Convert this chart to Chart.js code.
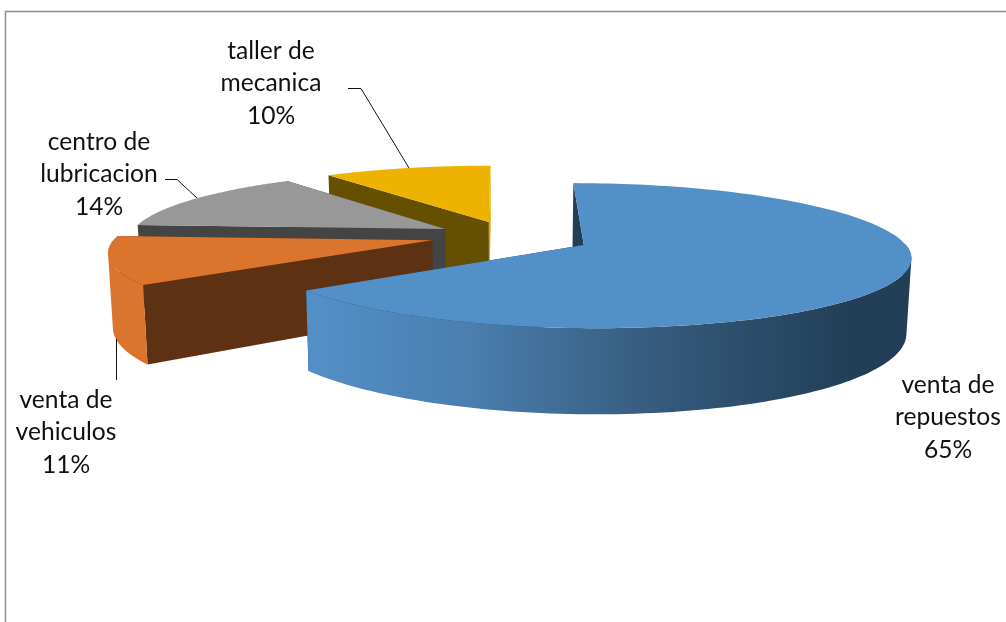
<!DOCTYPE html>
<html>
<head>
<meta charset="utf-8">
<title>Ingresos por area</title>
<script src="https://cdn.jsdelivr.net/npm/chart.js@4/dist/chart.umd.min.js"></script>
<style>
  html, body { margin: 0; padding: 0; background: #fff; overflow: hidden; }
  canvas { display: block; }
</style>
</head>
<body>
<canvas id="pie_chart" width="1006" height="622"></canvas>
<script>
var categories = ['venta de repuestos', 'venta de vehiculos', 'centro de lubricacion', 'taller de mecanica'];
var percents = [65, 11, 14, 10];

var topColors = ['#5490C8', '#DB742C', '#989898', '#EEB200'];
var startWallColors = ['#223F57', '#5F3113', '#444444', '#655000'];
var endWallColors = ['#223F57', '#5F3113', '#444444', '#DDA800'];

// floor perspective used to lay the pie arcs down
var view = { horizon: -234, height: 470, falloff: 0.00046, depth: 72, taper: 0.00017 };

// sideways nudge of the pulled out slices, on top of the arc offset
var sliceNudge = [0, -2, 0, 7];

// label centres and leader lines, same order as categories
var labelSpots = [[948, 385], [66, 400], [99, 142], [271, 51]];
var leaders = [
    null,
    [[116.5, 339], [116.5, 380]],
    [[165, 179.5], [177, 179.5], [197, 198]],
    [[348, 88.5], [361, 88.5], [409, 168]]
];

function project(cx, x, away, drop) {
    var f = 1 / (1 + view.falloff * away);
    return [cx + x * f * (1 - view.taper * drop), view.horizon + (view.height + drop) * f];
}

function slicePoint(arc, angle, radius, drop, index) {
    var mid = (arc.startAngle + arc.endAngle) / 2;
    var off = arc.options.offset;
    var x = Math.cos(angle) * radius + Math.cos(mid) * off + sliceNudge[index];
    var away = -(Math.sin(angle) * radius + Math.sin(mid) * off);
    return project(arc.x, x, away, drop);
}

function tracePath(ctx, pts) {
    pts.forEach(function (p, i) {
        if (i === 0) ctx.moveTo(p[0], p[1]);
        else ctx.lineTo(p[0], p[1]);
    });
    ctx.closePath();
}

function fillPath(ctx, pts, style) {
    ctx.beginPath();
    tracePath(ctx, pts);
    ctx.fillStyle = style;
    ctx.fill();
}

function cutWall(ctx, arc, angle, style, index) {
    var r = arc.outerRadius;
    fillPath(ctx, [
        slicePoint(arc, angle, 0, 0, index),
        slicePoint(arc, angle, r, 0, index),
        slicePoint(arc, angle, r, view.depth, index),
        slicePoint(arc, angle, 0, view.depth, index)
    ], style);
}

function rimStyle(ctx, index) {
    if (index === 0) {
        var g = ctx.createLinearGradient(304, 0, 850, 0);
        g.addColorStop(0, '#5490C8');
        g.addColorStop(0.3, '#4A7FAF');
        g.addColorStop(0.65, '#355A7C');
        g.addColorStop(1, '#223F57');
        return g;
    }
    return topColors[index];
}

// the rim is built from quads with one winding so the fold at its tip stays filled
function addRimQuad(ctx, arc, a0, a1, index) {
    var r = arc.outerRadius;
    var q = [
        slicePoint(arc, a0, r, 0, index),
        slicePoint(arc, a1, r, 0, index),
        slicePoint(arc, a1, r, view.depth, index),
        slicePoint(arc, a0, r, view.depth, index)
    ];
    var area = 0;
    q.forEach(function (p, i) {
        var n = q[(i + 1) % 4];
        area += p[0] * n[1] - n[0] * p[1];
    });
    if (area < 0) q.reverse();
    tracePath(ctx, q);
}

function drawSlice(ctx, arc, index) {
    var r = arc.outerRadius;
    var steps = 160;
    var top = [], i, a, b;

    cutWall(ctx, arc, arc.endAngle, endWallColors[index], index);
    cutWall(ctx, arc, arc.startAngle, startWallColors[index], index);

    ctx.beginPath();
    for (i = 0; i < steps; i++) {
        a = arc.startAngle + (arc.endAngle - arc.startAngle) * i / steps;
        b = arc.startAngle + (arc.endAngle - arc.startAngle) * (i + 1) / steps;
        // only the side of the rim facing the viewer gets a wall
        if (Math.sin(a) > 0 || Math.sin(b) > 0) addRimQuad(ctx, arc, a, b, index);
    }
    ctx.fillStyle = rimStyle(ctx, index);
    ctx.fill();

    top.push(slicePoint(arc, arc.startAngle, 0, 0, index));
    for (i = 0; i <= steps; i++) {
        a = arc.startAngle + (arc.endAngle - arc.startAngle) * i / steps;
        top.push(slicePoint(arc, a, r, 0, index));
    }
    fillPath(ctx, top, topColors[index]);
}

var pie3d = {
    id: 'pie3d',
    beforeDraw: function (chart) {
        var ctx = chart.ctx;
        ctx.save();
        ctx.strokeStyle = '#8E8E8E';
        ctx.lineWidth = 1.5;
        ctx.beginPath();
        ctx.moveTo(5.5, 622);
        ctx.lineTo(5.5, 11.5);
        ctx.lineTo(1006, 11.5);
        ctx.stroke();
        ctx.restore();
    },
    beforeDatasetsDraw: function (chart) {
        var ctx = chart.ctx;
        var arcs = chart.getDatasetMeta(0).data;
        ctx.save();
        // back slices first, the big front slice last
        [3, 2, 1, 0].forEach(function (i) {
            drawSlice(ctx, arcs[i], i);
        });
        ctx.restore();
        return false;
    },
    afterDraw: function (chart) {
        var ctx = chart.ctx;
        ctx.save();
        ctx.strokeStyle = '#111';
        ctx.lineWidth = 1;
        leaders.forEach(function (line) {
            if (!line) return;
            ctx.beginPath();
            line.forEach(function (p, i) {
                if (i === 0) ctx.moveTo(p[0], p[1]);
                else ctx.lineTo(p[0], p[1]);
            });
            ctx.stroke();
        });
        ctx.fillStyle = '#111';
        ctx.font = '24.6px Lato';
        ctx.textAlign = 'center';
        ctx.textBaseline = 'middle';
        categories.forEach(function (name, i) {
            var rows = name.split(' de ');
            var spot = labelSpots[i];
            ctx.fillText(rows[0] + ' de', spot[0], spot[1]);
            ctx.fillText(rows[1], spot[0], spot[1] + 32.5);
            ctx.fillText(percents[i] + '%', spot[0], spot[1] + 65);
        });
        ctx.restore();
    }
};

new Chart(document.getElementById('pie_chart').getContext('2d'), {
    type: 'pie',
    data: {
        labels: categories,
        datasets: [{
            data: percents,
            backgroundColor: topColors,
            offset: [89, 71, 67, 70],
            borderWidth: 0
        }]
    },
    options: {
        responsive: false,
        animation: false,
        radius: 316,
        events: [],
        plugins: { legend: false, tooltip: false }
    },
    plugins: [pie3d]
});
</script>
</body>
</html>
